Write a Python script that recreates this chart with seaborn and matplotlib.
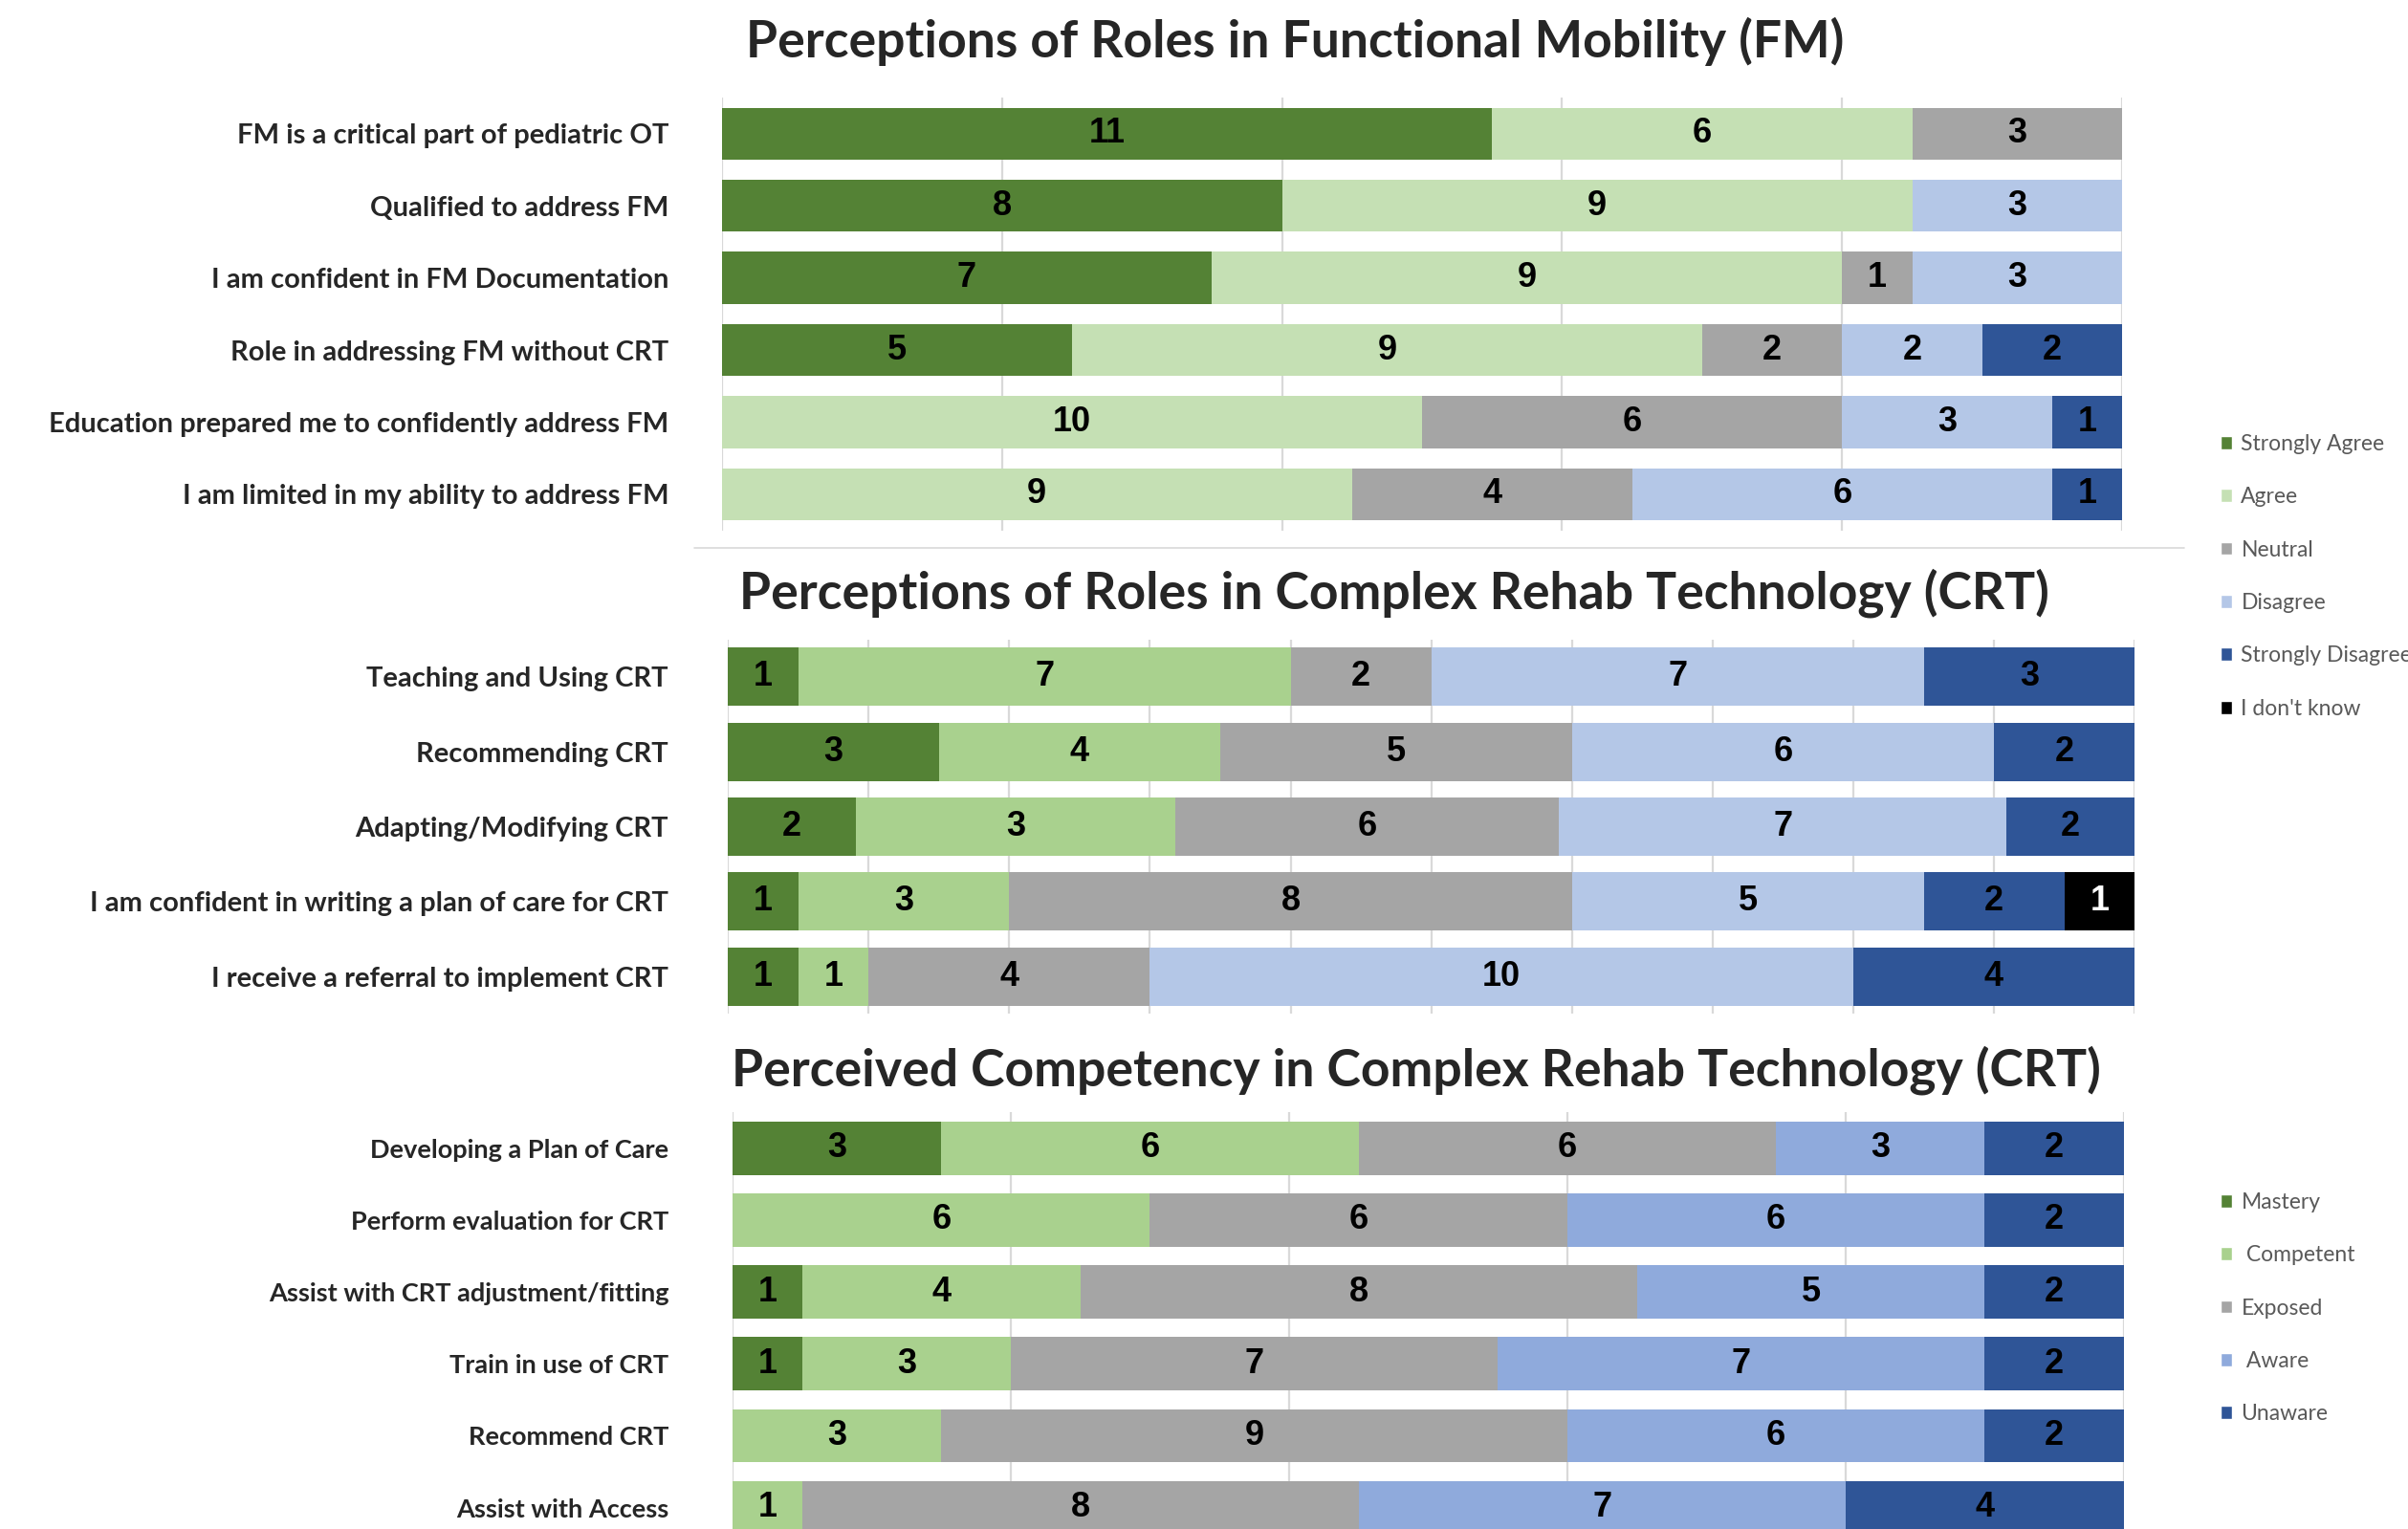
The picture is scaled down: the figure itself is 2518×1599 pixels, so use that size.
import matplotlib
matplotlib.use('Agg')
import matplotlib.pyplot as plt
import seaborn as sns
import pandas as pd
import numpy as np
from matplotlib.patches import Patch
from matplotlib.lines import Line2D

# ---- data (counts of respondents; bars show each row's share) ----
fm_items = ['FM is a critical part of pediatric OT',
            'Qualified to address FM',
            'I am confident in FM Documentation',
            'Role in addressing FM without CRT',
            'Education prepared me to confidently address FM',
            'I am limited in my ability to address FM']
fm_strongly_agree = [11, 8, 7, 5, 0, 0]
fm_agree = [6, 9, 9, 9, 10, 9]
fm_neutral = [3, 0, 1, 2, 6, 4]
fm_disagree = [0, 3, 3, 2, 3, 6]
fm_strongly_disagree = [0, 0, 0, 2, 1, 1]
fm_dont_know = [0, 0, 0, 0, 0, 0]

crt_items = ['Teaching and Using CRT',
             'Recommending CRT',
             'Adapting/Modifying CRT',
             'I am confident in writing a plan of care for CRT',
             'I receive a referral to implement CRT']
crt_strongly_agree = [1, 3, 2, 1, 1]
crt_agree = [7, 4, 5, 3, 1]
crt_neutral = [2, 5, 6, 8, 4]
crt_disagree = [7, 6, 7, 5, 10]
crt_strongly_disagree = [3, 2, 2, 2, 4]
crt_dont_know = [0, 0, 0, 1, 0]
# the original chart labels this segment "3" although the bar is sized as 5
crt_label_fix = {('Adapting/Modifying CRT', 'Agree'): 3}

comp_items = ['Developing a Plan of Care',
              'Perform evaluation for CRT',
              'Assist with CRT adjustment/fitting',
              'Train in use of CRT',
              'Recommend CRT',
              'Assist with Access']
comp_mastery = [3, 0, 1, 1, 0, 0]
comp_competent = [6, 6, 4, 3, 3, 1]
comp_exposed = [6, 6, 8, 7, 9, 8]
comp_aware = [3, 6, 5, 7, 6, 7]
comp_unaware = [2, 2, 2, 2, 2, 4]

agree_levels = ['Strongly Agree', 'Agree', 'Neutral', 'Disagree', 'Strongly Disagree', "I don't know"]
comp_levels = ['Mastery', ' Competent', 'Exposed', ' Aware', 'Unaware']

fm_colors = ['#548235', '#C5E0B4', '#A5A5A5', '#B4C7E7', '#2F5597', '#000000']
crt_colors = ['#548235', '#A9D18E', '#A5A5A5', '#B4C7E7', '#2F5597', '#000000']
comp_colors = ['#548235', '#A9D18E', '#A5A5A5', '#8FAADC', '#2F5597']

sns.set_theme(style='white')
plt.rcParams['font.family'] = ['Lato', 'DejaVu Sans']

W, H = 1568, 996  # reference coords used for placement
fig = plt.figure(figsize=(25.18, 15.99), dpi=100)


def stacked_panel(rect, items, series, levels, colors, bar_width, tick_step,
                  label_size, pad, label_fix=None):
    label_fix = label_fix or {}
    ax = fig.add_axes(rect)
    counts = pd.DataFrame(dict(zip(levels, series)), index=items)
    share = counts.div(counts.sum(axis=1), axis=0) * 100
    cum = share.cumsum(axis=1)
    # overlapping cumulative bars, widest first
    for level, col in reversed(list(zip(levels, colors))):
        sns.barplot(x=cum[level].values, y=items, order=items, color=col, orient='h',
                    width=bar_width, saturation=1, errorbar=None, edgecolor='none', ax=ax)
    for i, item in enumerate(items):
        for level, col in zip(levels, colors):
            v = counts.loc[item, level]
            if v > 0:
                shown = label_fix.get((item, level), v)
                ax.text(cum.loc[item, level] - share.loc[item, level] / 2, i, str(shown),
                        ha='center', va='center', fontsize=26, fontweight='bold',
                        family=['Liberation Sans Narrow', 'Liberation Sans', 'DejaVu Sans'],
                        color='white' if col == '#000000' else 'black')
    ax.set_xlim(0, 100)
    ax.set_xticks(np.arange(0, 101, tick_step))
    ax.grid(axis='x', color='#D9D9D9', linewidth=1.6)
    ax.grid(axis='y', visible=False)
    ax.set_axisbelow(True)
    ax.tick_params(axis='x', labelbottom=False, length=0)
    ax.tick_params(axis='y', length=0, pad=pad, labelsize=label_size)
    for lab in ax.get_yticklabels():
        lab.set_fontweight('bold')
    ax.set_xlabel('')
    ax.set_ylabel('')
    for s in ax.spines.values():
        s.set_visible(False)
    return ax


stacked_panel([470 / W, 1 - 345.5 / H, 912 / W, 282 / H], fm_items,
              [fm_strongly_agree, fm_agree, fm_neutral, fm_disagree, fm_strongly_disagree, fm_dont_know],
              agree_levels, fm_colors, 0.72, 20, 21, 40)
stacked_panel([474 / W, 1 - 660.4 / H, 916 / W, 243.8 / H], crt_items,
              [crt_strongly_agree, crt_agree, crt_neutral, crt_disagree, crt_strongly_disagree, crt_dont_know],
              agree_levels, crt_colors, 0.78, 10, 21, 45, crt_label_fix)
stacked_panel([477 / W, 1 - 1005.4 / H, 906 / W, 280.8 / H], comp_items,
              [comp_mastery, comp_competent, comp_exposed, comp_aware, comp_unaware],
              comp_levels, comp_colors, 0.74, 20, 19.5, 48)

# titles
fig.text(843 / W, 1 - 27 / H, 'Perceptions of Roles in Functional Mobility (FM)',
         ha='center', va='center', fontsize=38.5, fontweight='bold')
fig.text(908 / W, 1 - 386 / H, 'Perceptions of Roles in Complex Rehab Technology (CRT)',
         ha='center', va='center', fontsize=38.5, fontweight='bold')
fig.text(922 / W, 1 - 697 / H, 'Perceived Competency in Complex Rehab Technology (CRT)',
         ha='center', va='center', fontsize=38.5, fontweight='bold')

# separator
fig.add_artist(Line2D([452 / W, 1422 / W], [1 - 357 / H] * 2, color='#D9D9D9', linewidth=1.2))

# legends
h1 = [Patch(facecolor=c, label=l) for l, c in zip(agree_levels, fm_colors)]
fig.legend(handles=h1, loc='upper left', bbox_to_anchor=(1440 / W, 1 - 277 / H), frameon=False,
           fontsize=16.5, labelcolor='#595959', handlelength=0.55, handleheight=0.55,
           handletextpad=0.4, labelspacing=1.5, borderaxespad=0)
h2 = [Patch(facecolor=c, label=l) for l, c in zip(comp_levels, comp_colors)]
fig.legend(handles=h2, loc='upper left', bbox_to_anchor=(1440 / W, 1 - 771 / H), frameon=False,
           fontsize=16.5, labelcolor='#595959', handlelength=0.55, handleheight=0.55,
           handletextpad=0.4, labelspacing=1.5, borderaxespad=0)

fig.savefig('out.png', dpi=100)
